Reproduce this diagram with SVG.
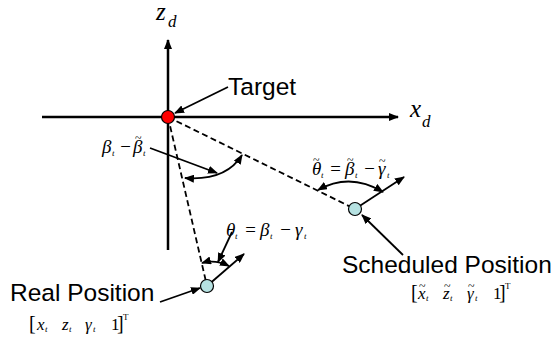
<svg xmlns="http://www.w3.org/2000/svg" width="558" height="338" viewBox="0 0 558 338">
<style>
.ax{stroke:#000;stroke-width:2.5;fill:none}
.ln{stroke:#000;stroke-width:1.8;fill:none}
.ds{stroke:#000;stroke-width:1.8;fill:none;stroke-dasharray:6 3.5}
.lbl{font-family:"Liberation Sans",Arial,sans-serif;font-size:24.5px;fill:#000}
.m{font-family:"Liberation Serif","Times New Roman",serif;font-style:italic;fill:#000}
.up{font-style:normal}
.sb{font-size:9px}
.tl{font-style:normal;font-size:12px}
</style>
<defs>
<marker id="ah" viewBox="0 0 10 8" refX="9" refY="4" markerWidth="10" markerHeight="8" markerUnits="userSpaceOnUse" orient="auto-start-reverse">
<path d="M0,0 L10,4 L0,8 Z" fill="#000"/>
</marker>
</defs>
<g id="axes">
<line class="ax" x1="42" y1="117" x2="398" y2="117" marker-end="url(#ah)"/>
<line class="ax" x1="168" y1="250" x2="168" y2="40" marker-end="url(#ah)"/>
<text class="m" font-size="25"><tspan x="156" y="20">z</tspan><tspan x="168" y="27" font-size="17">d</tspan></text>
<text class="m" font-size="25"><tspan x="410" y="117">x</tspan><tspan x="422" y="127" font-size="17">d</tspan></text>
</g>
<g id="connectors">
<line class="ds" x1="168" y1="117" x2="355" y2="209"/>
<line class="ds" x1="168" y1="117" x2="207" y2="286"/>
<line class="ln" x1="355" y1="209" x2="404" y2="177" marker-end="url(#ah)"/>
<line class="ln" x1="207" y1="286" x2="244" y2="254" marker-end="url(#ah)"/>
<path class="ln" d="M185,178 Q226,181 242,155" marker-start="url(#ah)" marker-end="url(#ah)"/>
<path class="ln" d="M318,190 Q350,172 383,192" marker-start="url(#ah)" marker-end="url(#ah)"/>
<path class="ln" d="M202,263 Q215,259 229,266" marker-start="url(#ah)" marker-end="url(#ah)"/>
<line class="ln" x1="150" y1="148" x2="217" y2="173" marker-end="url(#ah)"/>
<line class="ln" x1="232" y1="232" x2="218" y2="262" marker-end="url(#ah)"/>
<line class="ln" x1="228" y1="87" x2="175" y2="113" marker-end="url(#ah)"/>
<line class="ln" x1="160" y1="302" x2="200" y2="288" marker-end="url(#ah)"/>
<line class="ln" x1="403" y1="255" x2="362" y2="215" marker-end="url(#ah)"/>
</g>
<g id="target">
<circle cx="168" cy="117" r="6.5" fill="#ff0000" stroke="#000" stroke-width="1.2"/>
<text class="lbl" x="228" y="95">Target</text>
</g>
<g id="real">
<circle cx="207" cy="286" r="6.5" fill="#b6e2e2" stroke="#000" stroke-width="1.2"/>
<text class="lbl" x="10" y="301">Real Position</text>
<text class="m" font-size="17"><tspan class="up" x="29" y="330" font-size="20">[</tspan><tspan x="37" y="330">x</tspan><tspan class="sb" x="45" y="332">t</tspan><tspan x="62" y="330">z</tspan><tspan class="sb" x="69" y="332">t</tspan><tspan x="85" y="330">γ</tspan><tspan class="sb" x="93" y="332">t</tspan><tspan class="up" x="111" y="330">1</tspan><tspan class="up" x="117" y="330" font-size="20">]</tspan><tspan class="up" x="123" y="320" font-size="9">T</tspan></text>
</g>
<g id="scheduled">
<circle cx="355" cy="209" r="6.5" fill="#b6e2e2" stroke="#000" stroke-width="1.2"/>
<text class="lbl" x="342" y="273">Scheduled Position</text>
<text class="m" font-size="17"><tspan class="up" x="411" y="299" font-size="20">[</tspan><tspan x="418" y="299">x</tspan><tspan class="tl" x="419" y="290">~</tspan><tspan class="sb" x="426" y="301">t</tspan><tspan x="443" y="299">z</tspan><tspan class="tl" x="444" y="290">~</tspan><tspan class="sb" x="450" y="301">t</tspan><tspan x="467" y="299">γ</tspan><tspan class="tl" x="468" y="290">~</tspan><tspan class="sb" x="475" y="301">t</tspan><tspan class="up" x="493" y="299">1</tspan><tspan class="up" x="499" y="299" font-size="20">]</tspan><tspan class="up" x="505" y="289" font-size="9">T</tspan></text>
</g>
<g id="labels">
<text class="m" font-size="19"><tspan x="102" y="153">β</tspan><tspan class="sb" x="112" y="156">t</tspan><tspan x="119" y="153">−</tspan><tspan x="133" y="153">β</tspan><tspan class="tl" x="135" y="142">~</tspan><tspan class="sb" x="143" y="156">t</tspan></text>
<text class="m" font-size="19"><tspan x="226" y="236">θ</tspan><tspan class="sb" x="235" y="239">t</tspan><tspan x="244" y="236">=</tspan><tspan x="260" y="236">β</tspan><tspan class="sb" x="270" y="239">t</tspan><tspan x="279" y="236">−</tspan><tspan x="295" y="236">γ</tspan><tspan class="sb" x="304" y="239">t</tspan></text>
<text class="m" font-size="19"><tspan x="312" y="175">θ</tspan><tspan class="tl" x="313" y="164">~</tspan><tspan class="sb" x="321" y="178">t</tspan><tspan x="329" y="175">=</tspan><tspan x="345" y="175">β</tspan><tspan class="tl" x="347" y="164">~</tspan><tspan class="sb" x="355" y="178">t</tspan><tspan x="363" y="175">−</tspan><tspan x="378" y="175">γ</tspan><tspan class="tl" x="379" y="165">~</tspan><tspan class="sb" x="387" y="178">t</tspan></text>
</g>
</svg>
